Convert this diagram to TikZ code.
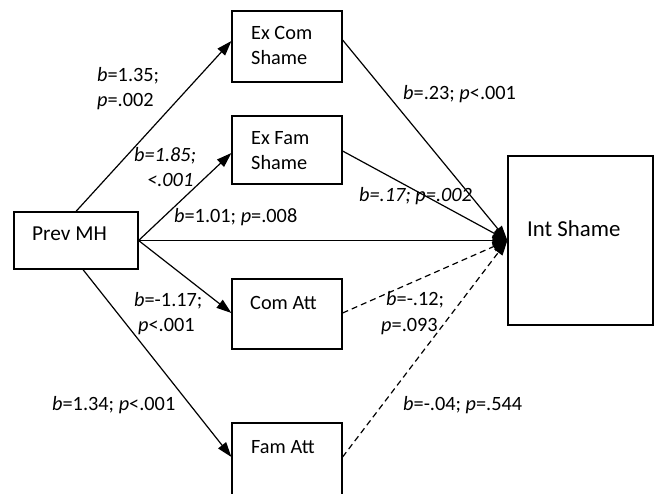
\documentclass[tikz,border=0pt]{standalone}
\usepackage{fontspec}
\setmainfont{Carlito}
\usetikzlibrary{arrows.meta}
\begin{document}
\begin{tikzpicture}[x=1pt,y=-1pt,
  box/.style={draw,line width=1.2pt,rectangle,inner sep=0pt},
  txt/.style={anchor=base west,inner sep=0pt,align=left,font=\fontsize{20.3}{25}\selectfont},
  conn/.style={line width=1.2pt,-{Triangle[length=15pt,width=10pt]}},
  dconn/.style={conn,dash pattern=on 6pt off 4pt}]
\useasboundingbox (0,0) rectangle (656,494);
\clip (0,0) rectangle (656,494);
% boxes
\node[box,minimum width=124pt,minimum height=57pt] (prev) at (76,240.5) {};
\node[box,minimum width=110pt,minimum height=71pt] (excom) at (287,46.5) {};
\node[box,minimum width=110pt,minimum height=68pt] (exfam) at (287,150) {};
\node[box,minimum width=110pt,minimum height=70pt] (comatt) at (287,314) {};
\node[box,minimum width=110pt,minimum height=90pt] (famatt) at (287,468) {};
\node[box,minimum width=145pt,minimum height=169pt] (intshame) at (580.5,240.5) {};
% box texts
\node[txt,font=\fontsize{21.3}{25}\selectfont] (tprev) at (32,241) {Prev MH};
\node[txt] (texcom) at (251,65) {Ex Com\\Shame};
\node[txt] (texfam) at (251,170) {Ex Fam\\Shame};
\node[txt] (tcomatt) at (250,309) {Com Att};
\node[txt] (tfamatt) at (251,453) {Fam Att};
\node[txt,font=\fontsize{22.8}{25}\selectfont] (tintshame) at (527,237) {Int Shame};
% connectors
\draw[conn] (prev.north) -- ([yshift=5.5pt]excom.west);
\draw[conn] (prev.east) -- ([yshift=-3pt]exfam.west);
\draw[conn] (prev.east) -- (intshame.west);
\draw[conn] (prev.east) -- ([yshift=1pt]comatt.west);
\draw[conn] ([xshift=7pt]prev.south) -- ([yshift=11pt]famatt.west);
\draw[conn] ([yshift=6.5pt]excom.east) -- (intshame.west);
\draw[conn] ([yshift=-1pt]exfam.east) -- (intshame.west);
\draw[dconn] ([yshift=1pt]comatt.east) -- (intshame.west);
\draw[dconn] ([yshift=11pt]famatt.east) -- (intshame.west);
% labels
\node[txt] (l1) at (97,107) {\textit{b}=1.35;\\\textit{p}=.002};
\node[txt] (l2) at (134,187) {\textit{b=1.85;}\\\hspace*{13pt}\textit{<.001}};
\node[txt] (l3) at (174,223) {\textit{b}=1.01; \textit{p}=.008};
\node[txt] (l4) at (403,100) {\textit{b}=.23; \textit{p}<.001};
\node[txt] (l5) at (359,202) {\textit{b=.17; p=.002}};
\node[txt] (l6) at (134,332) {\textit{b}=-1.17;\\\hspace*{4pt}\textit{p}<.001};
\node[txt] (l7) at (52,410) {\textit{b}=1.34; \textit{p}<.001};
\node[txt] (l8) at (386,306) {\textit{b}=-.12;};
\node[txt] (l9) at (381,332) {\textit{p}=.093};
\node[txt] (l10) at (403,410) {\textit{b}=-.04; \textit{p}=.544};
\end{tikzpicture}
\end{document}
